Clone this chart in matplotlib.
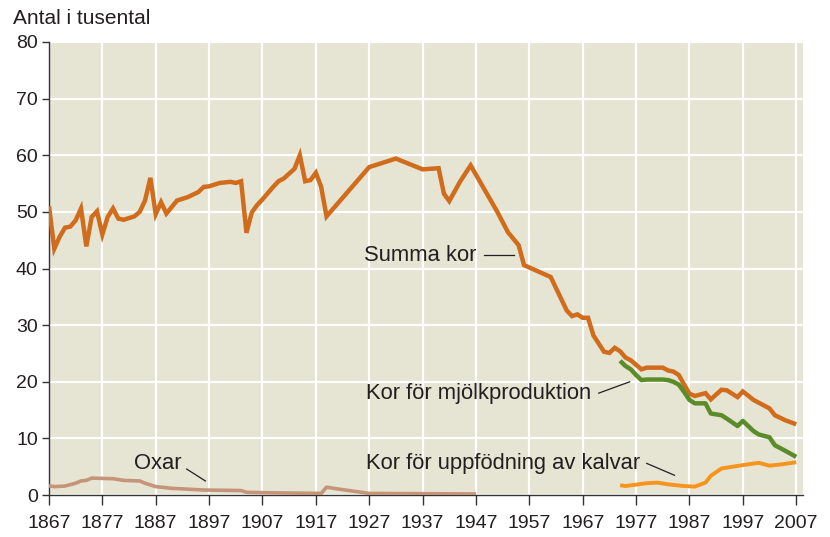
import matplotlib
matplotlib.use("Agg")
import matplotlib.pyplot as plt

plt.rcParams['font.family'] = ['Liberation Sans', 'DejaVu Sans']

# Antal kor och oxar (tusental)
summa_years = [1867, 1868, 1869, 1870, 1871, 1872, 1873, 1874, 1875, 1876, 1877, 1878,
               1879, 1880, 1881, 1883, 1884, 1885, 1886, 1887, 1888, 1889, 1891, 1892,
               1893, 1895, 1896, 1897, 1899, 1901, 1902, 1903, 1904, 1905, 1906, 1907,
               1909, 1910, 1911, 1913, 1914, 1915, 1916, 1917, 1918, 1919, 1927, 1932,
               1937, 1940, 1941, 1942, 1944, 1946, 1951, 1953, 1955, 1956, 1961, 1964,
               1965, 1966, 1967, 1968, 1969, 1971, 1972, 1973, 1974, 1975, 1976, 1978,
               1979, 1982, 1983, 1984, 1985, 1986, 1987, 1988, 1990, 1991, 1993, 1994,
               1996, 1997, 1999, 2000, 2002, 2003, 2005, 2007]
summa_kor = [51.0, 43.5, 45.6, 47.2, 47.4, 48.5, 50.6, 43.9, 49.1, 50.1, 46.0, 49.1,
             50.6, 48.8, 48.6, 49.2, 50.0, 52.0, 56.0, 49.6, 51.7, 49.7, 52.0, 52.3,
             52.6, 53.5, 54.4, 54.5, 55.1, 55.3, 55.1, 55.4, 46.3, 49.9, 51.2, 52.2,
             54.4, 55.4, 55.9, 57.6, 60.0, 55.4, 55.6, 56.9, 54.4, 49.2, 57.9, 59.4,
             57.5, 57.7, 53.2, 51.9, 55.3, 58.2, 50.0, 46.4, 44.1, 40.6, 38.5, 32.6,
             31.6, 31.9, 31.3, 31.3, 28.2, 25.3, 25.1, 26.0, 25.4, 24.3, 23.8, 22.2,
             22.5, 22.5, 22.0, 21.8, 21.2, 19.5, 17.9, 17.5, 18.0, 16.9, 18.6, 18.5,
             17.3, 18.3, 16.8, 16.3, 15.3, 14.1, 13.2, 12.5]

mjolk_years = [1974, 1975, 1976, 1977, 1978, 1979, 1982, 1983, 1984, 1985, 1986, 1987,
               1988, 1990, 1991, 1993, 1994, 1996, 1997, 1999, 2000, 2002, 2003, 2004,
               2005, 2007]
mjolk_kor = [23.7, 22.8, 22.2, 21.2, 20.3, 20.4, 20.4, 20.3, 20.0, 19.5, 18.2, 16.8,
             16.2, 16.2, 14.4, 14.1, 13.5, 12.2, 13.1, 11.3, 10.7, 10.2, 8.8, 8.3,
             7.8, 6.75]

kalv_years = [1974, 1975, 1979, 1981, 1983, 1986, 1988, 1990, 1991, 1993, 1995, 1997,
              2000, 2002, 2004, 2007]
kalv_kor = [1.75, 1.6, 2.1, 2.2, 1.9, 1.6, 1.5, 2.2, 3.4, 4.7, 5.0, 5.3,
            5.7, 5.2, 5.4, 5.8]

oxar_years = [1867, 1868, 1870, 1872, 1873, 1874, 1875, 1879, 1881, 1884, 1885, 1887,
              1890, 1896, 1903, 1904, 1909, 1918, 1919, 1921, 1927, 1947]
oxar = [1.65, 1.5, 1.6, 2.1, 2.5, 2.6, 3.0, 2.9, 2.6, 2.5, 2.1, 1.5,
        1.2, 0.9, 0.8, 0.5, 0.4, 0.3, 1.4, 1.1, 0.3, 0.2]

x_ticks = list(range(1867, 2008, 10))
y_ticks = list(range(0, 81, 10))

fig = plt.figure(figsize=(8.30, 5.37), dpi=100)
ax = fig.add_axes([0.059, 0.078, 0.908, 0.844])
ax.set_facecolor('#e6e4d3')

ax.plot(oxar_years, oxar, color='#c4957a', lw=2.6, solid_capstyle='butt', zorder=3)
ax.plot(kalv_years, kalv_kor, color='#f7941e', lw=2.8, solid_capstyle='butt', zorder=3)
ax.plot(summa_years, summa_kor, color='#d06c1c', lw=3.2, solid_joinstyle='miter',
        solid_capstyle='butt', zorder=4)
ax.plot(mjolk_years, mjolk_kor, color='#5b8c2a', lw=3.2, solid_capstyle='butt', zorder=5)

ax.set_xlim(1867, 2008.2)
ax.set_ylim(0, 80)
ax.set_xticks(x_ticks)
ax.set_yticks(y_ticks)
ax.set_xticklabels([str(t) for t in x_ticks])
ax.grid(True, color='white', lw=1.6)
ax.set_axisbelow(True)

for side in ('top', 'right'):
    ax.spines[side].set_visible(False)
for side in ('left', 'bottom'):
    ax.spines[side].set_color('#333333')
    ax.spines[side].set_linewidth(1.0)
ax.tick_params(axis='x', direction='out', length=7, width=1.0, color='#333333',
               labelsize=14, labelcolor='#231f20', pad=7)
ax.tick_params(axis='y', direction='out', length=5, width=1.0, color='#333333',
               labelsize=14, labelcolor='#231f20', pad=3)

fig.text(0.016, 0.966, 'Antal i tusental', fontsize=15, color='#231f20',
         ha='left', va='center')

txt = dict(fontsize=15.8, color='#231f20', ha='left', va='center')
lead = dict(color='#231f20', lw=0.9)
ax.text(1926.1, 42.3, 'Summa kor', **txt)
ax.plot([1948.5, 1954.1], [42.3, 42.3], **lead)
ax.text(1926.4, 18.0, 'Kor för mjölkproduktion', **txt)
ax.plot([1970.0, 1975.8], [18.0, 20.0], **lead)
ax.text(1926.4, 5.6, 'Kor för uppfödning av kalvar', **txt)
ax.plot([1979.0, 1984.2], [5.6, 3.5], **lead)
ax.text(1882.9, 5.5, 'Oxar', **txt)
ax.plot([1892.8, 1896.3], [4.6, 2.5], **lead)

fig.savefig('out.png', dpi=100)
